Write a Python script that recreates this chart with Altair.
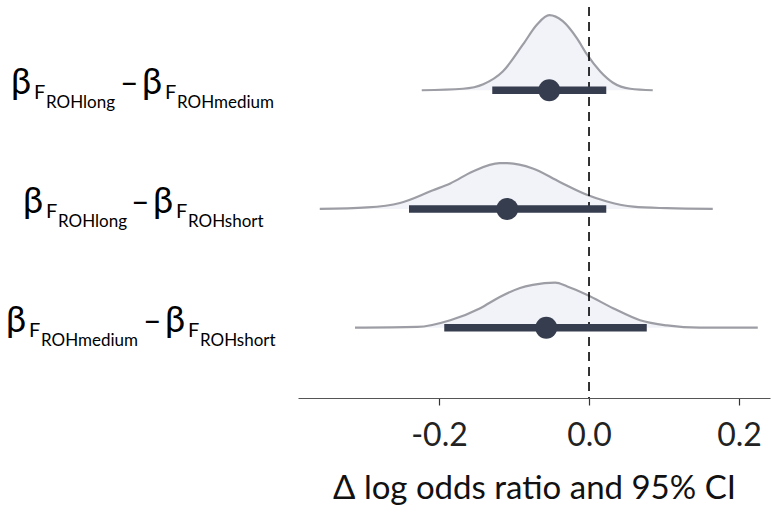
import altair as alt
import pandas as pd

# ---- data ----
row_names = ["long - medium", "long - short", "medium - short"]
row_pos = [3, 2, 1]

# posterior density outlines (x = delta log odds ratio, h = relative density)
dens_x_1 = [-0.223, -0.168, -0.141, -0.115, -0.088, -0.069, -0.053, -0.035, -0.016, -0.003, 0.015, 0.032, 0.055, 0.085]
dens_h_1 = [0.0, 0.02, 0.08, 0.25, 0.61, 0.88, 1.0, 0.92, 0.69, 0.48, 0.25, 0.10, 0.02, 0.0]

dens_x_2 = [-0.359, -0.296, -0.252, -0.208, -0.185, -0.155, -0.119, -0.109, -0.075, -0.039, -0.003, 0.024, 0.059, 0.104, 0.165]
dens_h_2 = [0.0, 0.02, 0.08, 0.25, 0.34, 0.50, 0.61, 0.61, 0.54, 0.36, 0.19, 0.10, 0.03, 0.01, 0.0]

dens_x_3 = [-0.312, -0.229, -0.185, -0.145, -0.119, -0.092, -0.075, -0.045, -0.029, -0.003, 0.032, 0.068, 0.104, 0.148, 0.225]
dens_h_3 = [0.0, 0.01, 0.10, 0.26, 0.41, 0.53, 0.57, 0.60, 0.55, 0.44, 0.26, 0.10, 0.03, 0.0, 0.0]

point_est = [-0.053, -0.109, -0.057]
ci_low = [-0.129, -0.240, -0.193]
ci_high = [0.023, 0.023, 0.077]

tick_values = [-0.2, 0.0, 0.2]
x_title = "Δ log odds ratio and 95% CI"

# label terms: beta_F_ROH<a> - beta_F_ROH<b>
label_a = ["ROHlong", "ROHlong", "ROHmedium"]
label_b = ["ROHmedium", "ROHshort", "ROHshort"]

# ---- build tables ----
SCALE = 0.632  # row units per relative density unit
dens_rows = []
for name, pos, xs, hs in zip(row_names, row_pos, [dens_x_1, dens_x_2, dens_x_3], [dens_h_1, dens_h_2, dens_h_3]):
    for x, h in zip(xs, hs):
        dens_rows.append({"row": name, "x": x, "base": pos, "top": pos + h * SCALE})
dens = pd.DataFrame(dens_rows)

summ = pd.DataFrame({"row": row_names, "pos": row_pos, "est": point_est, "lo": ci_low, "hi": ci_high})

# plot geometry
PLOT_LEFT, PLOT_W, PLOT_H = 298, 472, 391
X_DOMAIN = [-0.388, 0.2413]

# label piece layout (pixel offsets from the left edge of the page)
starts = [
    [11, 34, 46, 120, 142, 165, 177],
    [23, 46, 58, 131, 153, 176, 188],
    [6, 29, 41, 143, 165, 188, 200],
]
big, dash, fF, sub = [], [], [], []
for pos, a, b, s in zip(row_pos, label_a, label_b, starts):
    big += [{"pos": pos, "t": "β", "px": s[0]},
            {"pos": pos, "t": "β", "px": s[4]}]
    dash += [{"pos": pos, "t": "–", "px": s[3]}]
    fF += [{"pos": pos, "t": "F", "px": s[1]},
           {"pos": pos, "t": "F", "px": s[5]}]
    sub += [{"pos": pos, "t": a, "px": s[2]},
            {"pos": pos, "t": b, "px": s[6]}]

xscale = alt.Scale(domain=X_DOMAIN, nice=False, zero=False)
yscale = alt.Scale(domain=[0.408, 3.701], nice=False, zero=False)

FONT = "Lato"
x_axis = alt.Axis(
    values=tick_values,
    labelExpr="datum.value < 0 ? '-' + format(abs(datum.value), '.1f') : format(datum.value, '.1f')",
    title=x_title, grid=False,
    domainColor="#555555", domainWidth=1.2,
    tickColor="#333333", tickSize=7, tickWidth=1.2,
    labelFont=FONT, labelFontSize=32, labelColor="#222222", labelPadding=15,
    titleFont=FONT, titleFontSize=33, titleFontWeight="normal", titleColor="#111111", titlePadding=21,
)

area = alt.Chart(dens).mark_area(color="#f2f3f8", opacity=1, interpolate="monotone").encode(
    x=alt.X("x:Q", scale=xscale, axis=x_axis),
    y=alt.Y("top:Q", scale=yscale, axis=None),
    y2="base:Q",
    detail="row:N",
)
outline = alt.Chart(dens).mark_line(color="#9d9ea5", strokeWidth=2.2, interpolate="monotone").encode(
    x=alt.X("x:Q"),
    y=alt.Y("top:Q", axis=None),
    detail="row:N",
)
zero_rule = alt.Chart(pd.DataFrame({"z": [0.0]})).mark_rule(
    color="black", strokeWidth=1.6, strokeDash=[9, 6]
).encode(x=alt.X("z:Q"))

interval = alt.Chart(summ).mark_rule(color="#363d4f", strokeWidth=7.5, strokeCap="butt").encode(
    x=alt.X("lo:Q"), x2="hi:Q", y=alt.Y("pos:Q", axis=None)
)
point = alt.Chart(summ).mark_point(filled=True, color="#363d4f", opacity=1, size=480, shape="circle").encode(
    x=alt.X("est:Q"), y=alt.Y("pos:Q", axis=None)
)

px_to_x = f"{X_DOMAIN[0]} + (datum.px - {PLOT_LEFT}) * {(X_DOMAIN[1] - X_DOMAIN[0]) / PLOT_W}"

def text_layer(rows, size, dy):
    return alt.Chart(pd.DataFrame(rows)).transform_calculate(xx=px_to_x).mark_text(
        align="left", baseline="alphabetic", font=FONT, fontSize=size, dy=dy, color="black"
    ).encode(
        x=alt.X("xx:Q"),
        y=alt.Y("pos:Q", axis=None),
        text="t:N",
    )

labels = [text_layer(big, 36, 4), text_layer(dash, 32, 4), text_layer(fF, 20, 9), text_layer(sub, 17, 18)]

chart = alt.layer(area, outline, zero_rule, interval, point, *labels).properties(
    width=PLOT_W, height=PLOT_H,
    background="white",
    autosize=alt.AutoSizeParams(type="none"),
    padding={"left": PLOT_LEFT, "top": 7, "right": 2, "bottom": 116},
).configure_view(stroke=None)

chart.save("out.html", embed_options={"renderer": "svg", "actions": False})
